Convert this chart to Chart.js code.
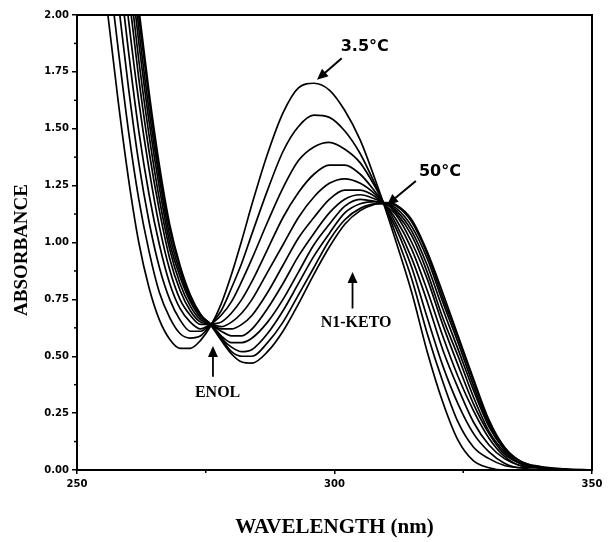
<!DOCTYPE html>
<html>
<head>
<meta charset="utf-8">
<script src="https://cdn.jsdelivr.net/npm/chart.js@4.4.1/dist/chart.umd.min.js"></script>
<style>
  html, body { margin: 0; padding: 0; background: #fff; }
</style>
</head>
<body>
<canvas id="spectra" width="611" height="542"></canvas>
<script>
// wavelengths (nm) shared by every spectrum
var wavelength = [254, 256, 258, 260, 262, 264, 266, 268, 270, 272, 274, 276, 278, 280, 282, 284, 287, 290, 293, 296, 299, 302, 305, 308, 310, 312, 315, 318, 321, 324, 327, 330, 333, 336, 340, 345, 350];

// absorbance, from the coldest (3.5 C) to the warmest (50 C) spectrum
var abs01 = [2.40, 2.00, 1.62, 1.28, 1.00, 0.80, 0.66, 0.575, 0.535, 0.535, 0.57, 0.635, 0.73, 0.86, 1.01, 1.17, 1.39, 1.57, 1.68, 1.70, 1.67, 1.58, 1.45, 1.27, 1.14, 1.00, 0.78, 0.52, 0.30, 0.13, 0.04, 0.01, 0.00, 0.00, 0.00, 0.00, 0.00];
var abs02 = [2.63, 2.23, 1.85, 1.49, 1.19, 0.96, 0.78, 0.67, 0.60, 0.58, 0.59, 0.64, 0.70, 0.80, 0.91, 1.04, 1.23, 1.40, 1.51, 1.56, 1.55, 1.49, 1.39, 1.25, 1.15, 1.03, 0.84, 0.60, 0.39, 0.21, 0.10, 0.05, 0.02, 0.01, 0.00, 0.00, 0.00];
var abs03 = [2.84, 2.44, 2.06, 1.68, 1.35, 1.09, 0.89, 0.75, 0.66, 0.61, 0.61, 0.64, 0.68, 0.74, 0.83, 0.93, 1.09, 1.24, 1.36, 1.42, 1.44, 1.41, 1.35, 1.24, 1.15, 1.06, 0.89, 0.67, 0.46, 0.29, 0.16, 0.08, 0.03, 0.01, 0.01, 0.00, 0.00];
var abs04 = [3.02, 2.62, 2.23, 1.84, 1.49, 1.21, 0.99, 0.82, 0.71, 0.65, 0.62, 0.64, 0.65, 0.69, 0.75, 0.83, 0.97, 1.11, 1.22, 1.30, 1.34, 1.34, 1.30, 1.22, 1.16, 1.08, 0.93, 0.74, 0.53, 0.36, 0.21, 0.11, 0.05, 0.02, 0.01, 0.00, 0.00];
var abs05 = [3.18, 2.78, 2.39, 1.98, 1.62, 1.32, 1.07, 0.88, 0.75, 0.68, 0.64, 0.64, 0.63, 0.65, 0.69, 0.75, 0.87, 0.99, 1.11, 1.20, 1.26, 1.28, 1.26, 1.21, 1.16, 1.10, 0.97, 0.79, 0.59, 0.41, 0.26, 0.14, 0.06, 0.02, 0.01, 0.00, 0.00];
var abs06 = [3.31, 2.91, 2.52, 2.10, 1.72, 1.40, 1.14, 0.93, 0.79, 0.70, 0.65, 0.64, 0.62, 0.62, 0.64, 0.68, 0.78, 0.90, 1.02, 1.11, 1.19, 1.23, 1.23, 1.20, 1.16, 1.12, 1.00, 0.84, 0.64, 0.46, 0.29, 0.16, 0.07, 0.03, 0.01, 0.00, 0.00];
var abs07 = [3.41, 3.01, 2.62, 2.19, 1.80, 1.47, 1.19, 0.97, 0.82, 0.72, 0.66, 0.64, 0.61, 0.59, 0.59, 0.62, 0.71, 0.82, 0.94, 1.04, 1.13, 1.19, 1.21, 1.19, 1.17, 1.13, 1.03, 0.87, 0.67, 0.50, 0.32, 0.17, 0.08, 0.03, 0.01, 0.00, 0.00];
var abs08 = [3.51, 3.11, 2.71, 2.27, 1.88, 1.53, 1.24, 1.00, 0.85, 0.74, 0.67, 0.64, 0.59, 0.56, 0.56, 0.58, 0.65, 0.75, 0.87, 0.99, 1.08, 1.16, 1.19, 1.18, 1.17, 1.14, 1.05, 0.90, 0.71, 0.53, 0.35, 0.19, 0.09, 0.03, 0.01, 0.00, 0.00];
var abs09 = [3.58, 3.18, 2.78, 2.35, 1.94, 1.58, 1.28, 1.03, 0.87, 0.75, 0.68, 0.64, 0.58, 0.54, 0.52, 0.53, 0.60, 0.70, 0.82, 0.94, 1.04, 1.13, 1.17, 1.18, 1.17, 1.15, 1.07, 0.93, 0.74, 0.56, 0.37, 0.20, 0.09, 0.04, 0.01, 0.00, 0.00];
var abs10 = [3.65, 3.25, 2.85, 2.40, 1.99, 1.63, 1.31, 1.06, 0.89, 0.76, 0.68, 0.64, 0.58, 0.52, 0.50, 0.50, 0.56, 0.65, 0.77, 0.89, 1.01, 1.10, 1.15, 1.17, 1.17, 1.16, 1.09, 0.95, 0.76, 0.58, 0.39, 0.21, 0.10, 0.04, 0.01, 0.00, 0.00];
var abs11 = [3.70, 3.30, 2.90, 2.45, 2.03, 1.66, 1.34, 1.08, 0.90, 0.77, 0.685, 0.635, 0.57, 0.51, 0.475, 0.47, 0.52, 0.61, 0.73, 0.86, 0.98, 1.08, 1.14, 1.17, 1.175, 1.165, 1.10, 0.96, 0.78, 0.59, 0.40, 0.22, 0.10, 0.04, 0.015, 0.005, 0.00];

var spectra = [abs01, abs02, abs03, abs04, abs05, abs06, abs07, abs08, abs09, abs10, abs11];

// ticks
var yMinorTicks = [0.125, 0.375, 0.625, 0.875, 1.125, 1.375, 1.625, 1.875];
var xMinorTicks = [275, 325];

var sansBold = "'DejaVu Sans', Arial, sans-serif";
var serif = "'Liberation Serif', 'Times New Roman', serif";

function drawArrow(ctx, x1, y1, x2, y2) {
    var ang = Math.atan2(y2 - y1, x2 - x1);
    var head = 11, half = 5;
    ctx.beginPath();
    ctx.moveTo(x1, y1);
    ctx.lineTo(x2 - Math.cos(ang) * head * 0.8, y2 - Math.sin(ang) * head * 0.8);
    ctx.stroke();
    ctx.beginPath();
    ctx.moveTo(x2, y2);
    ctx.lineTo(x2 - Math.cos(ang) * head - Math.sin(ang) * half, y2 - Math.sin(ang) * head + Math.cos(ang) * half);
    ctx.lineTo(x2 - Math.cos(ang) * head + Math.sin(ang) * half, y2 - Math.sin(ang) * head - Math.cos(ang) * half);
    ctx.closePath();
    ctx.fill();
}

var frameAndNotes = {
    id: 'frameAndNotes',
    afterDatasetsDraw: function (chart) {
        var ctx = chart.ctx, a = chart.chartArea;
        var xs = chart.scales.x, ys = chart.scales.y;
        ctx.save();
        ctx.strokeStyle = '#000';
        ctx.fillStyle = '#000';
        ctx.lineWidth = 2;
        ctx.strokeRect(a.left, a.top, a.right - a.left, a.bottom - a.top);

        // minor ticks
        ctx.lineWidth = 1.5;
        yMinorTicks.forEach(function (v) {
            var py = ys.getPixelForValue(v);
            ctx.beginPath(); ctx.moveTo(a.left - 3, py); ctx.lineTo(a.left, py); ctx.stroke();
        });
        xMinorTicks.forEach(function (v) {
            var px = xs.getPixelForValue(v);
            ctx.beginPath(); ctx.moveTo(px, a.bottom); ctx.lineTo(px, a.bottom + 3); ctx.stroke();
        });

        // y axis title, set a little below the middle as in the original
        ctx.save();
        ctx.translate(22, 250);
        ctx.rotate(-Math.PI / 2);
        ctx.font = 'bold 19px ' + serif;
        ctx.textAlign = 'center';
        ctx.textBaseline = 'middle';
        ctx.fillText('ABSORBANCE', 0, 0);
        ctx.restore();

        function P(w, v) { return [xs.getPixelForValue(w), ys.getPixelForValue(v)]; }

        // temperature labels
        ctx.lineWidth = 2;
        var p1 = P(301.4, 1.81), p2 = P(296.6, 1.715);
        drawArrow(ctx, p1[0], p1[1], p2[0], p2[1]);
        var p3 = P(315.8, 1.27), p4 = P(310.2, 1.165);
        drawArrow(ctx, p3[0], p3[1], p4[0], p4[1]);

        ctx.font = 'bold 16px ' + sansBold;
        ctx.textAlign = 'left';
        ctx.textBaseline = 'middle';
        var t1 = P(301.2, 1.86);
        ctx.fillText('3.5\u00b0C', t1[0], t1[1]);
        var t2 = P(316.4, 1.31);
        ctx.fillText('50\u00b0C', t2[0], t2[1]);

        // band labels
        ctx.lineWidth = 1.8;
        var e1 = P(276.4, 0.41), e2 = P(276.4, 0.545);
        drawArrow(ctx, e1[0], e1[1], e2[0], e2[1]);
        var k1 = P(303.5, 0.71), k2 = P(303.5, 0.87);
        drawArrow(ctx, k1[0], k1[1], k2[0], k2[1]);

        ctx.font = 'bold 16px ' + serif;
        ctx.textAlign = 'center';
        var e3 = P(277.3, 0.34);
        ctx.fillText('ENOL', e3[0], e3[1]);
        var k3 = P(304.2, 0.645);
        ctx.fillText('N1-KETO', k3[0], k3[1]);
        ctx.restore();
    }
};

var datasets = spectra.map(function (s) {
    return {
        data: wavelength.map(function (w, i) { return { x: w, y: s[i] }; }),
        borderColor: '#000',
        borderWidth: 1.7,
        pointRadius: 0,
        fill: false,
        cubicInterpolationMode: 'monotone'
    };
});

new Chart(document.getElementById('spectra'), {
    type: 'line',
    data: { datasets: datasets },
    options: {
        responsive: false,
        animation: false,
        layout: { padding: { top: 15, right: 19, left: 0, bottom: 0 } },
        plugins: { legend: { display: false }, tooltip: { enabled: false } },
        scales: {
            x: {
                type: 'linear',
                min: 250,
                max: 350,
                afterFit: function (scale) { scale.height = 72; },
                ticks: {
                    stepSize: 50,
                    color: '#000',
                    padding: 4,
                    font: { family: sansBold, size: 10, weight: 'bold' }
                },
                grid: { drawOnChartArea: false, drawTicks: true, tickLength: 4, color: '#000', lineWidth: 1.5 },
                border: { display: true, color: '#000', width: 2 },
                title: {
                    display: true,
                    text: 'WAVELENGTH (nm)',
                    color: '#000',
                    font: { family: serif, size: 21, weight: 'bold' },
                    padding: { top: 0, bottom: 2 }
                }
            },
            y: {
                min: 0,
                max: 2,
                afterFit: function (scale) { scale.width = 77; },
                ticks: {
                    stepSize: 0.25,
                    color: '#000',
                    padding: 3,
                    font: { family: sansBold, size: 10, weight: 'bold' },
                    callback: function (v) { return v.toFixed(2); }
                },
                grid: { drawOnChartArea: false, drawTicks: true, tickLength: 5, color: '#000', lineWidth: 1.5 },
                border: { display: true, color: '#000', width: 2 }
            }
        }
    },
    plugins: [frameAndNotes]
});
</script>
</body>
</html>
